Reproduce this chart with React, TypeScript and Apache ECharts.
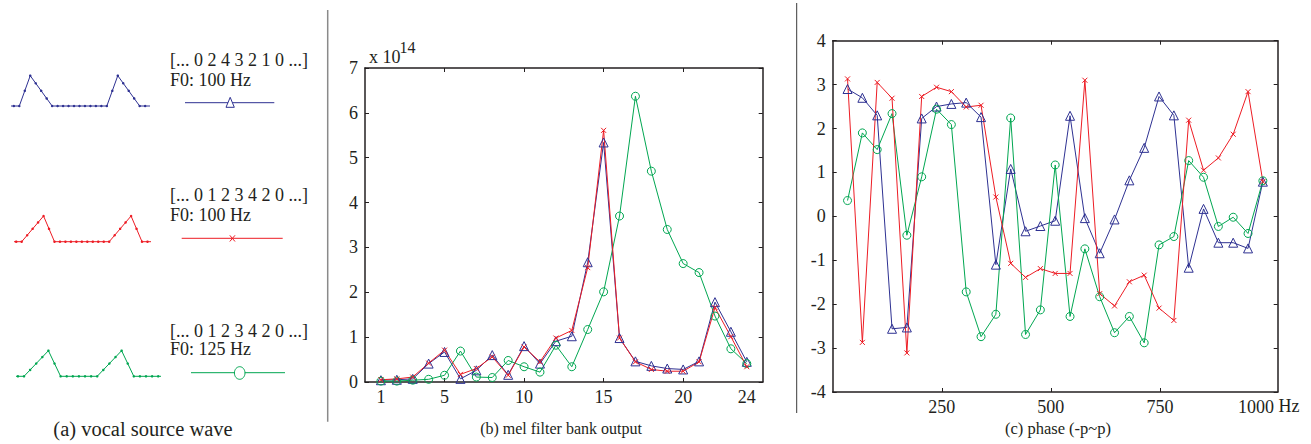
import React, { useEffect, useRef } from "react";
import * as echarts from "echarts";

const BLUE = "#2e3192";
const RED = "#ed1c24";
const GREEN = "#00a651";
const INK = "#231f20";
const FONT = "'Liberation Serif', 'Times New Roman', serif";

// (a) vocal source waves: amplitude per sample, first sample at index -1
const waveStart = -1;
const waveBlue = [0, 0, 0, 2, 4, 3, 2, 1, 0, 0, 0, 0, 0, 0, 0, 0, 0, 0, 0, 2, 4, 3, 2, 1, 0, 0, 0];
const waveRed = [0, 0, 0, 1, 2, 3, 4, 2, 0, 0, 0, 0, 0, 0, 0, 0, 0, 0, 0, 1, 2, 3, 4, 2, 0, 0, 0];
const waveGreen = [0, 0, 0, 1, 2, 3, 4, 2, 0, 0, 0, 0, 0, 0, 0, 1, 2, 3, 4, 2, 0, 0, 0, 0, 0, 0];

// (b) mel filter bank output (x 10^14)
const melBands = [1, 2, 3, 4, 5, 6, 7, 8, 9, 10, 11, 12, 13, 14, 15, 16, 17, 18, 19, 20, 21, 22, 23, 24];
const melBlue = [0.04, 0.05, 0.07, 0.41, 0.67, 0.07, 0.26, 0.6, 0.16, 0.8, 0.41, 0.91, 1.02, 2.67, 5.34, 0.98, 0.46, 0.36, 0.3, 0.28, 0.46, 1.78, 1.12, 0.45];
const melRed = [0.05, 0.07, 0.11, 0.42, 0.71, 0.17, 0.3, 0.56, 0.15, 0.78, 0.45, 0.98, 1.15, 2.55, 5.61, 0.98, 0.45, 0.28, 0.24, 0.24, 0.45, 1.66, 1.01, 0.34];
const melGreen = [0.02, 0.02, 0.04, 0.06, 0.15, 0.69, 0.11, 0.1, 0.48, 0.34, 0.22, 0.82, 0.34, 1.17, 2.01, 3.7, 6.37, 4.7, 3.4, 2.64, 2.44, 1.47, 0.74, 0.41];
const melXLabels = [1, 5, 10, 15, 20, 24];
const melXTicks = [5, 10, 15, 20];

// (c) phase (rad) vs frequency (Hz)
const phaseFreq = [34, 68, 102, 136, 170, 204, 238, 272, 306, 340, 374, 408, 442, 476, 510, 544, 578, 612, 646, 680, 714, 748, 782, 816, 850, 884, 918, 952, 986];
const phaseBlue = [2.9, 2.7, 2.3, -2.56, -2.53, 2.23, 2.5, 2.56, 2.59, 2.26, -1.1, 1.08, -0.34, -0.22, -0.1, 2.29, -0.04, -0.84, -0.07, 0.82, 1.56, 2.73, 2.3, -1.17, 0.17, -0.6, -0.6, -0.73, 0.79];
const phaseRed = [3.13, -2.87, 3.05, 2.69, -3.11, 2.73, 2.94, 2.84, 2.49, 2.53, 0.44, -1.07, -1.39, -1.19, -1.3, -1.3, 3.1, -1.76, -2.04, -1.49, -1.34, -2.09, -2.37, 2.19, 1.05, 1.33, 1.87, 2.84, 0.79];
const phaseGreen = [0.36, 1.9, 1.52, 2.34, -0.43, 0.9, 2.44, 2.09, -1.72, -2.74, -2.23, 2.24, -2.69, -2.13, 1.17, -2.28, -0.74, -1.83, -2.65, -2.28, -2.88, -0.65, -0.46, 1.27, 0.89, -0.23, -0.02, -0.39, 0.81];
const phaseXTicks = [250, 500, 750];

const X_MARK = "path://M0,0L10,10M10,0L0,10";

const labelStyle = { fontFamily: FONT, fontSize: 18, color: INK };

function pairs(xs: number[], ys: number[]) {
  return ys.map((y, i) => [xs[i], y]);
}
function wavePairs(ys: number[]) {
  return ys.map((y, i) => [waveStart + i, y]);
}

function boxAxes(gridIndex: number, xMin: number, xMax: number, yMin: number, yMax: number, xTicks: number[], xLabels: number[], yInterval: number) {
  const line = { show: true, onZero: false, lineStyle: { color: INK, width: 1.5 } };
  const tick = { show: true, inside: true, length: 4, lineStyle: { color: INK, width: 1 } };
  const xs = [
    {
      type: "value", gridIndex, min: xMin, max: xMax, position: "bottom",
      axisLine: line, splitLine: { show: false },
      axisTick: { ...tick, customValues: xTicks },
      axisLabel: { ...labelStyle, margin: 6, customValues: xLabels },
    },
    {
      type: "value", gridIndex, min: xMin, max: xMax, position: "top",
      axisLine: line, splitLine: { show: false },
      axisTick: { ...tick, customValues: xTicks },
      axisLabel: { show: false },
    },
  ];
  const ys = [
    {
      type: "value", gridIndex, min: yMin, max: yMax, interval: yInterval, position: "left",
      axisLine: line, splitLine: { show: false }, axisTick: tick,
      axisLabel: { ...labelStyle, margin: 7 },
    },
    {
      type: "value", gridIndex, min: yMin, max: yMax, interval: yInterval, position: "right",
      axisLine: line, splitLine: { show: false }, axisTick: tick,
      axisLabel: { show: false },
    },
  ];
  return { xs, ys };
}

function dataSeries(name: string, color: string, kind: "tri" | "x" | "circ", data: number[][], xIdx: number, yIdx: number) {
  const sym = kind === "tri" ? "triangle" : kind === "x" ? X_MARK : "circle";
  const size = kind === "tri" ? 9 : kind === "x" ? 5 : 8;
  return {
    type: "line", name, xAxisIndex: xIdx, yAxisIndex: yIdx, data,
    symbol: sym, symbolSize: size, showSymbol: true,
    lineStyle: { color, width: 1 },
    itemStyle: { color: kind === "x" ? color : "rgba(255,255,255,0)", borderColor: color, borderWidth: 1 },
    emphasis: { disabled: true },
    silent: true,
  };
}

function waveSeries(color: string, ys: number[], idx: number) {
  return {
    type: "line", xAxisIndex: idx, yAxisIndex: idx, data: wavePairs(ys),
    symbol: "circle", symbolSize: 2.5, showSymbol: true, clip: true,
    lineStyle: { color, width: 1 },
    itemStyle: { color },
    silent: true,
  };
}

function txt(text: string, x: number, y: number, opts: any = {}) {
  return {
    type: "text", x, y, silent: true,
    style: { text, fontFamily: FONT, fontSize: 18, fill: INK, textAlign: "left", textVerticalAlign: "middle", ...opts },
  };
}

export default function App() {
  const ref = useRef<HTMLDivElement>(null);
  useEffect(() => {
    if (!ref.current) return;
    const chart = echarts.init(ref.current, undefined, { renderer: "svg" });

    const hiddenX = (gridIndex: number, min: number, max: number) => ({ type: "value", gridIndex, min, max, show: false });
    const hiddenY = (gridIndex: number) => ({ type: "value", gridIndex, min: -0.5, max: 4.5, show: false });

    const b = boxAxes(3, 0, 25, 0, 7, melXTicks, melXLabels, 1);
    const c = boxAxes(4, 0, 1020, -4, 4, phaseXTicks, phaseXTicks, 1);

    const option: any = {
      animation: false,
      backgroundColor: "#ffffff",
      grid: [
        { left: 11.7, top: 71.9, width: 136.6, height: 37.9 },
        { left: 15, top: 212.8, width: 135, height: 32.1 },
        { left: 16.7, top: 347.5, width: 142.6, height: 32 },
        { left: 365, top: 68, width: 397.7, height: 314 },
        { left: 832.7, top: 40.7, width: 445, height: 351.3 },
      ],
      xAxis: [
        hiddenX(0, -0.39, 24.58),
        hiddenX(1, -0.22, 24.46),
        hiddenX(2, -0.2, 23.18),
        ...b.xs,
        ...c.xs,
      ],
      yAxis: [hiddenY(0), hiddenY(1), hiddenY(2), ...b.ys, ...c.ys],
      series: [
        waveSeries(BLUE, waveBlue, 0),
        waveSeries(RED, waveRed, 1),
        waveSeries(GREEN, waveGreen, 2),
        dataSeries("blue", BLUE, "tri", pairs(melBands, melBlue), 3, 3),
        dataSeries("green", GREEN, "circ", pairs(melBands, melGreen), 3, 3),
        dataSeries("red", RED, "x", pairs(melBands, melRed), 3, 3),
        dataSeries("blue", BLUE, "tri", pairs(phaseFreq, phaseBlue), 5, 5),
        dataSeries("green", GREEN, "circ", pairs(phaseFreq, phaseGreen), 5, 5),
        dataSeries("red", RED, "x", pairs(phaseFreq, phaseRed), 5, 5),
      ],
      graphic: [
        // separators
        { type: "line", silent: true, shape: { x1: 327.7, y1: 10, x2: 327.7, y2: 421.7 }, style: { stroke: "#8a8a8a", lineWidth: 1.5 } },
        { type: "line", silent: true, shape: { x1: 796.7, y1: 3, x2: 796.7, y2: 413 }, style: { stroke: "#3a3a3a", lineWidth: 1 } },
        // panel (a) labels
        txt("[... 0 2 4 3 2 1 0 ...]", 170, 59.5),
        txt("F0: 100 Hz", 170, 80),
        txt("[... 0 1 2 3 4 2 0 ...]", 170, 194.5),
        txt("F0: 100 Hz", 170, 214.6),
        txt("[... 0 1 2 3 4 2 0 ...]", 170, 330.5),
        txt("F0: 125 Hz", 170, 349),
        // legend samples
        { type: "line", silent: true, shape: { x1: 185, y1: 102.7, x2: 274.3, y2: 102.7 }, style: { stroke: BLUE, lineWidth: 1 } },
        { type: "polygon", silent: true, shape: { points: [[226, 107.3], [230.2, 97.3], [234.3, 107.3]] }, style: { fill: "#fff", stroke: BLUE, lineWidth: 1 } },
        { type: "line", silent: true, shape: { x1: 181.7, y1: 238.3, x2: 282.7, y2: 238.3 }, style: { stroke: RED, lineWidth: 1 } },
        { type: "line", silent: true, shape: { x1: 229.8, y1: 235.3, x2: 235, y2: 241.5 }, style: { stroke: RED, lineWidth: 1 } },
        { type: "line", silent: true, shape: { x1: 235, y1: 235.3, x2: 229.8, y2: 241.5 }, style: { stroke: RED, lineWidth: 1 } },
        { type: "line", silent: true, shape: { x1: 191, y1: 372.7, x2: 285, y2: 372.7 }, style: { stroke: GREEN, lineWidth: 1 } },
        { type: "ellipse", silent: true, shape: { cx: 239.7, cy: 373, rx: 5.3, ry: 6.3 }, style: { fill: "#fff", stroke: GREEN, lineWidth: 1 } },
        // panel (b) exponent
        txt("x 10", 369, 57),
        txt("14", 399.5, 47.5, { fontSize: 16 }),
        // panel (c) end label
        txt("1000", 1274, 406.5, { textAlign: "right" }),
        txt("Hz", 1278.5, 405.5),
        // captions
        txt("(a) vocal source wave", 143, 428.5, { textAlign: "center", fontSize: 20.5 }),
        txt("(b) mel filter bank output", 561, 428.5, { textAlign: "center", fontSize: 16 }),
        txt("(c) phase (-p~p)", 1058, 428.5, { textAlign: "center", fontSize: 16.5 }),
      ],
    };
    chart.setOption(option);
    return () => chart.dispose();
  }, []);
  return <div ref={ref} style={{ position: "fixed", left: 0, top: 0, width: 1311, height: 444 }} />;
}
